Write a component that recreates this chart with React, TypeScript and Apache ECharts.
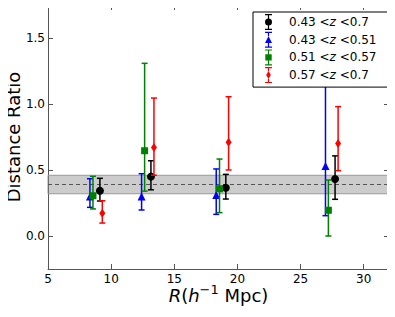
import React, { useEffect, useRef } from "react";
import * as echarts from "echarts";

const seriesNames = ["0.43 <z <0.7", "0.43 <z <0.51", "0.51 <z <0.57", "0.57 <z <0.7"];
const seriesColors = ["#000000", "#0000ff", "#008000", "#ff0000"];

const blackR = [9.11, 13.15, 19.08, 27.73];
const blackVal = [0.343, 0.45, 0.366, 0.432];
const blackLo = [0.265, 0.35, 0.28, 0.278];
const blackHi = [0.437, 0.57, 0.467, 0.607];

const blueR = [8.32, 12.41, 18.32, 26.97];
const blueVal = [0.3, 0.3, 0.31, 0.53];
const blueLo = [0.217, 0.197, 0.164, 0.154];
const blueHi = [0.434, 0.472, 0.508, 1.3];

const greenR = [8.56, 12.65, 18.58, 27.2];
const greenVal = [0.305, 0.646, 0.358, 0.195];
const greenLo = [0.205, 0.34, 0.177, 0.0];
const greenHi = [0.452, 1.308, 0.583, 0.424];

const redR = [9.3, 13.39, 19.3, 27.97];
const redVal = [0.172, 0.67, 0.71, 0.7];
const redLo = [0.098, 0.46, 0.5, 0.495];
const redHi = [0.267, 1.045, 1.055, 0.98];

const bandLow = 0.32;
const bandHigh = 0.46;
const bandMid = 0.39;

const xTicks = [5, 10, 15, 20, 25, 30];
const yTicks = [0, 0.5, 1.0, 1.5];

const FONT = "DejaVu Sans";

// legend icons: marker + error bar, all with bbox 7 x 16
const caps = "M1.5,0 H8.5 V1.2 H1.5 Z M1.5,14.8 H8.5 V16 H1.5 Z";
const bar = (a: number, b: number) =>
  `M4.4,1.2 H5.6 V${a} H4.4 Z M4.4,${b} H5.6 V14.8 H4.4 Z`;
const iconCircle = `path://${caps} ${bar(4.5, 11.5)} M1.5,8 A3.5,3.5 0 1 1 8.5,8 A3.5,3.5 0 1 1 1.5,8 Z`;
const iconTri = `path://${caps} ${bar(4.3, 11.2)} M5,4.3 L8.5,11.2 L1.5,11.2 Z`;
const iconSquare = `path://${caps} ${bar(4.8, 11.2)} M1.8,4.8 H8.2 V11.2 H1.8 Z`;
const iconDiamond = `path://${caps} ${bar(4, 12)} M5,4 L7.3,8 L5,12 L2.7,8 Z`;
const icons = [iconCircle, iconTri, iconSquare, iconDiamond];

const groups = [
  { r: blackR, v: blackVal, lo: blackLo, hi: blackHi, symbol: "circle", size: 8 },
  { r: blueR, v: blueVal, lo: blueLo, hi: blueHi, symbol: "triangle", size: 8 },
  { r: greenR, v: greenVal, lo: greenLo, hi: greenHi, symbol: "rect", size: 7 },
  { r: redR, v: redVal, lo: redLo, hi: redHi, symbol: "diamond", size: [6, 9] },
];

export default function App() {
  const ref = useRef<HTMLDivElement>(null);
  useEffect(() => {
    if (!ref.current) return;
    const chart = echarts.init(ref.current, null, { renderer: "svg" });
    const series: any[] = [];
    groups.forEach((g, gi) => {
      const color = seriesColors[gi];
      series.push({
        type: "custom",
        name: seriesNames[gi],
        xAxisIndex: 0,
        yAxisIndex: 0,
        clip: false,
        z: 10 + gi * 2,
        data: g.r.map((x, i) => [x, g.lo[i], g.hi[i]]),
        encode: { x: 0, y: [1, 2] },
        renderItem: (params: any, api: any) => {
          const x = api.value(0);
          const pLo = api.coord([x, api.value(1)]);
          const pHi = api.coord([x, api.value(2)]);
          const cw = 3;
          const st = { stroke: color, lineWidth: 1.5 };
          return {
            type: "group",
            children: [
              { type: "line", shape: { x1: pLo[0], y1: pLo[1], x2: pHi[0], y2: pHi[1] }, style: st },
              { type: "line", shape: { x1: pLo[0] - cw, y1: pLo[1], x2: pLo[0] + cw, y2: pLo[1] }, style: st },
              { type: "line", shape: { x1: pHi[0] - cw, y1: pHi[1], x2: pHi[0] + cw, y2: pHi[1] }, style: st },
            ],
          };
        },
      });
      const sc: any = {
        type: "scatter",
        name: seriesNames[gi],
        xAxisIndex: 0,
        yAxisIndex: 0,
        z: 11 + gi * 2,
        symbol: g.symbol,
        symbolSize: g.size,
        itemStyle: { color, opacity: 1 },
        data: g.r.map((x, i) => [x, g.v[i]]),
      };
      if (gi === 0) {
        sc.markArea = {
          silent: true,
          z: 1,
          itemStyle: { color: "rgba(0,0,0,0.2)", borderColor: "#999", borderWidth: 1 },
          data: [[{ yAxis: bandLow }, { yAxis: bandHigh }]],
        };
        sc.markLine = {
          silent: true,
          symbol: "none",
          label: { show: false },
          lineStyle: { color: "#555", type: [4, 3], width: 1 },
          data: [{ yAxis: bandMid }],
        };
      }
      series.push(sc);
    });

    const axisLineStyle = { color: "#555", width: 1 };
    const option: any = {
      animation: false,
      grid: { left: 48, right: 6, top: 5, bottom: 48, containLabel: false, outerBoundsMode: "none" },
      legend: {
        orient: "vertical",
        left: 253,
        top: 12,
        padding: [2, 12, 4, 12],
        backgroundColor: "#fff",
        borderColor: "#000",
        borderWidth: 1,
        itemWidth: 7,
        itemHeight: 16,
        itemGap: 1.7,
        z: 50,
        data: seriesNames.map((n, i) => ({
          name: n,
          icon: icons[i],
          itemStyle: { color: seriesColors[i] },
        })),
        formatter: (name: string) => name.replace("z", "{i|z}"),
        textStyle: {
          fontFamily: FONT,
          fontSize: 12,
          color: "#000",
          padding: [0, 0, 0, 12],
          lineHeight: 16,
          rich: { i: { fontStyle: "italic", fontFamily: FONT, fontSize: 12, color: "#000" } },
        },
      },
      xAxis: [
        {
          type: "value",
          min: 5,
          max: 32,
          position: "bottom",
          splitLine: { show: false },
          axisLine: { lineStyle: axisLineStyle, onZero: false },
          axisTick: { inside: true, length: 5, lineStyle: axisLineStyle, customValues: xTicks },
          axisLabel: { customValues: xTicks, fontFamily: FONT, fontSize: 12, color: "#000", margin: 4 },
          name: "{i|R}({i|h}{sup|−1} Mpc)",
          nameLocation: "middle",
          nameGap: 14,
          nameMoveOverlap: false,
          nameTextStyle: {
            fontFamily: FONT,
            fontSize: 18,
            lineHeight: 24,
            color: "#000",
            verticalAlign: "top",
            rich: {
              i: { fontStyle: "italic", fontFamily: FONT, fontSize: 18, lineHeight: 24, color: "#000" },
              sup: { fontFamily: FONT, fontSize: 13, lineHeight: 12, color: "#000", verticalAlign: "top" },
            },
          },
        },
        {
          type: "value",
          min: 5,
          max: 32,
          position: "top",
          splitLine: { show: false },
          axisLine: { lineStyle: axisLineStyle, onZero: false },
          axisTick: { inside: true, length: 5, lineStyle: axisLineStyle, customValues: xTicks },
          axisLabel: { show: false },
        },
      ],
      yAxis: [
        {
          type: "value",
          min: -0.25,
          max: 1.75,
          position: "left",
          splitLine: { show: false },
          axisLine: { show: true, lineStyle: axisLineStyle, onZero: false },
          axisTick: { show: true, inside: true, length: 5, lineStyle: axisLineStyle, customValues: yTicks },
          axisLabel: {
            customValues: yTicks,
            fontFamily: FONT,
            fontSize: 12,
            color: "#000",
            margin: 3,
            formatter: (v: number) => v.toFixed(1),
          },
          name: "Distance Ratio",
          nameLocation: "middle",
          nameGap: 26,
          nameMoveOverlap: false,
          nameTextStyle: { fontFamily: FONT, fontSize: 18, color: "#000" },
        },
        {
          type: "value",
          min: -0.25,
          max: 1.75,
          position: "right",
          splitLine: { show: false },
          axisLine: { show: true, lineStyle: axisLineStyle, onZero: false },
          axisTick: { show: true, inside: true, length: 5, lineStyle: axisLineStyle, customValues: yTicks },
          axisLabel: { show: false },
        },
      ],
      series,
    };
    chart.setOption(option);
    return () => chart.dispose();
  }, []);
  return <div ref={ref} style={{ width: 395, height: 317, margin: -8 }} />;
}
